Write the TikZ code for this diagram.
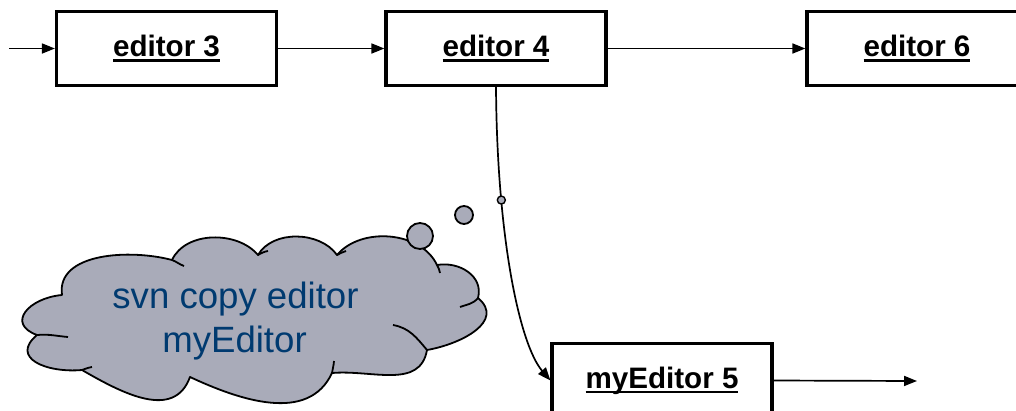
\documentclass[tikz,border=0pt]{standalone}
\usepackage{fontspec}
\setmainfont{Liberation Sans}
\usetikzlibrary{arrows.meta}
\definecolor{cloudfill}{HTML}{A9ABB9}
\definecolor{cloudtext}{HTML}{003A70}
\newcommand{\ulx}[1]{\setbox0\hbox{#1}\rlap{\rule[-5pt]{\wd0}{2.5pt}}\box0}
\tikzset{
  box/.style={draw, line width=3.2pt, minimum width=220pt, minimum height=74pt, inner sep=0pt,
    font=\fontsize{29.6}{34}\selectfont\bfseries},
  conn/.style={line width=1.7pt, -{Triangle[length=13pt,width=10pt]}},
  bubble/.style={draw, line width=1.8pt, fill=cloudfill, circle, inner sep=0pt},
  cloudline/.style={line width=1.8pt},
  cloudtxt/.style={anchor=base, inner sep=0pt, text=cloudtext, font=\fontsize{36.6}{44}\selectfont},
}
\begin{document}
\begin{tikzpicture}[x=1pt,y=-1pt]
\useasboundingbox (0,0) rectangle (1016,410);
\begin{scope}
\clip (0,0) rectangle (1016,410);
\node[box] (e3) at (166.5,48.5) {\ulx{editor 3}};
\node[box] (e4) at (496,48.5) {\ulx{editor 4}};
\node[box] (e6) at (917,48.5) {\ulx{editor 6}};
\node[box] (m5) at (662,380.5) {\ulx{myEditor 5}};
\end{scope}
\coordinate (in) at (9,48.5);
\coordinate (out) at (917,381);
\draw[conn] (in) -- (e3.west);
\draw[conn] (e3.east) -- (e4.west);
\draw[conn] (e4.east) -- (e6.west);
\draw[conn] (m5.east) -- (out);
\draw[conn] (e4.south) .. controls (497,240) and (520,345) .. (m5.west)
  node[pos=0.27, bubble, minimum size=8pt, line width=1.4pt] (dot) {};
% thought cloud
\coordinate (c1) at (62,295);
\coordinate (c2) at (172,260);
\coordinate (c3) at (258,255);
\coordinate (c4) at (337,255);
\coordinate (c5) at (437,265);
\coordinate (c6) at (478,298);
\coordinate (c7) at (427,350);
\coordinate (c8) at (332,373);
\coordinate (c9) at (190,377);
\coordinate (c10) at (82,370);
\coordinate (c11) at (37,335);
\filldraw[cloudline, fill=cloudfill, line join=round]
  (c1) to[out=98,in=165,looseness=0.95] (c2)
  to[out=65,in=130,looseness=0.95] (c3)
  to[out=60,in=125,looseness=0.95] (c4)
  to[out=50,in=115,looseness=0.95] (c5)
  to[out=10,in=75,looseness=1.1] (c6)
  to[out=-40,in=10,looseness=1.25] (c7)
  to[out=-100,in=5,looseness=1.05] (c8)
  to[out=-115,in=-25,looseness=1.0] (c9)
  to[out=-110,in=-30,looseness=1.1] (c10)
  to[out=-175,in=-140,looseness=1.6] (c11)
  to[out=-200,in=-175,looseness=1.8] (c1) -- cycle;
% inner arcs of the cloud
\draw[cloudline] (c11) to[out=5,in=-185] (68,337);
\draw[cloudline] (c2) to[out=-20,in=-200] (184,266);
\draw[cloudline] (c3) to[out=30,in=-170] (268,251);
\draw[cloudline] (c4) to[out=30,in=-160] (346,251);
\draw[cloudline] (c5) to[out=-60,in=100] (440,273);
\draw[cloudline] (c6) to[out=-130,in=20] (460,307);
\draw[cloudline] (c7) to[out=130,in=-10] (393,325);
\draw[cloudline] (c8) to[out=80,in=-95] (334,361);
\draw[cloudline] (c10) to[out=20,in=-170] (92,367);
\node[cloudtxt] (t1) at (235.5,308) {svn copy editor};
\node[cloudtxt] (t2) at (234.5,352) {myEditor};
\node[bubble, minimum size=26pt] (b2) at (420,236) {};
\node[bubble, minimum size=18pt] (b1) at (464,215) {};
\end{tikzpicture}
\end{document}
